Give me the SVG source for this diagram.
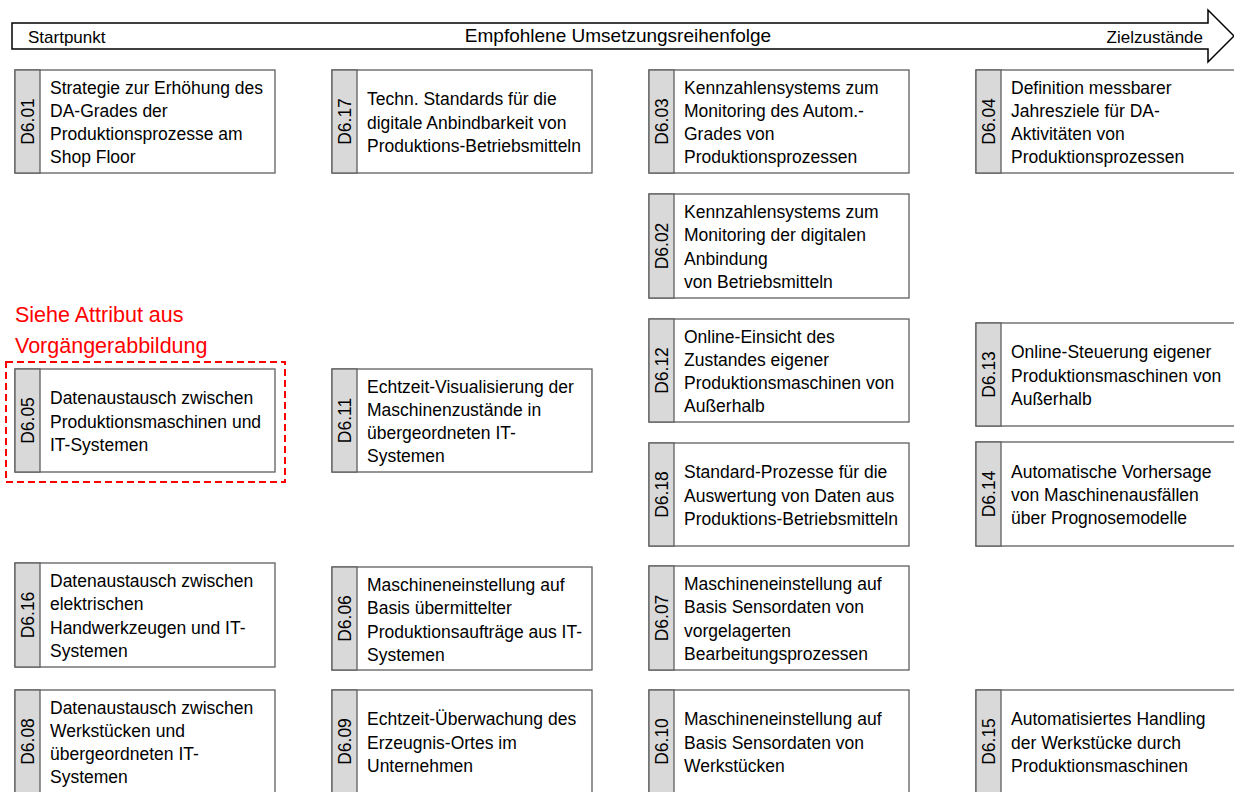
<svg xmlns="http://www.w3.org/2000/svg" width="1234" height="792" viewBox="0 0 1234 792">
  <style>
    .bg { fill: #ffffff; }
    .box { fill: #ffffff; stroke: #5f5f5f; stroke-width: 1.3; }
    .strip { fill: #d9d9d9; stroke: #5f5f5f; stroke-width: 1.3; }
    text { font-family: "Liberation Sans", Arial, sans-serif; fill: #000000; }
    .lbl { font-size: 17.5px; }
    .id { font-size: 17.5px; text-anchor: middle; }
    .axis { font-size: 17px; }
    .title { font-size: 19px; text-anchor: middle; }
    .note { font-size: 21.5px; fill: #ff0000; }
    .arrow { fill: #ffffff; stroke: #000000; stroke-width: 1.5; stroke-linejoin: miter; }
    .mark { fill: none; stroke: #ff0000; stroke-width: 2; stroke-dasharray: 7 4; }
  </style>

  <rect class="bg" x="0" y="0" width="1234" height="792"/>

  <!-- direction arrow across the top -->
  <g id="sequence-arrow">
    <polygon class="arrow" points="12,23 1208,23 1208,10 1234,36 1208,62 1208,49 12,49"/>
    <text class="axis" x="28" y="43">Startpunkt</text>
    <text class="title" x="618" y="42">Empfohlene Umsetzungsreihenfolge</text>
    <text class="axis" x="1203" y="43" text-anchor="end">Zielzustände</text>
  </g>

  <!-- no connectors between the items -->
  <g id="connectors"/>

  <!-- column 1 -->
  <g id="d6-01">
    <rect class="box" x="15" y="70" width="260" height="103"/>
    <rect class="strip" x="15" y="70" width="25" height="103"/>
    <text class="id" transform="translate(33.5,121.5) rotate(-90)">D6.01</text>
    <text class="lbl" x="50" y="93.5">Strategie zur Erhöhung des<tspan x="50" dy="23.3">DA-Grades der</tspan><tspan x="50" dy="23.3">Produktionsprozesse am</tspan><tspan x="50" dy="23.3">Shop Floor</tspan></text>
  </g>

  <g id="note-d6-05">
    <text class="note" x="15" y="322">Siehe Attribut aus</text>
    <text class="note" x="15" y="353">Vorgängerabbildung</text>
    <rect class="mark" x="6" y="362" width="279" height="120"/>
  </g>

  <g id="d6-05">
    <rect class="box" x="15" y="369" width="260" height="103"/>
    <rect class="strip" x="15" y="369" width="25" height="103"/>
    <text class="id" transform="translate(33.5,420.5) rotate(-90)">D6.05</text>
    <text class="lbl" x="50" y="404.2">Datenaustausch zwischen<tspan x="50" dy="23.3">Produktionsmaschinen und</tspan><tspan x="50" dy="23.3">IT-Systemen</tspan></text>
  </g>

  <g id="d6-16">
    <rect class="box" x="15" y="563" width="260" height="104"/>
    <rect class="strip" x="15" y="563" width="25" height="104"/>
    <text class="id" transform="translate(33.5,615) rotate(-90)">D6.16</text>
    <text class="lbl" x="50" y="587">Datenaustausch zwischen<tspan x="50" dy="23.3">elektrischen</tspan><tspan x="50" dy="23.3">Handwerkzeugen und IT-</tspan><tspan x="50" dy="23.3">Systemen</tspan></text>
  </g>

  <g id="d6-08">
    <rect class="box" x="15" y="690" width="260" height="106"/>
    <rect class="strip" x="15" y="690" width="25" height="106"/>
    <text class="id" transform="translate(33.5,741.5) rotate(-90)">D6.08</text>
    <text class="lbl" x="50" y="713.5">Datenaustausch zwischen<tspan x="50" dy="23.3">Werkstücken und</tspan><tspan x="50" dy="23.3">übergeordneten IT-</tspan><tspan x="50" dy="23.3">Systemen</tspan></text>
  </g>

  <!-- column 2 -->
  <g id="d6-17">
    <rect class="box" x="332" y="70" width="260" height="103"/>
    <rect class="strip" x="332" y="70" width="25" height="103"/>
    <text class="id" transform="translate(350.5,121.5) rotate(-90)">D6.17</text>
    <text class="lbl" x="367" y="105.2">Techn. Standards für die<tspan x="367" dy="23.3">digitale Anbindbarkeit von</tspan><tspan x="367" dy="23.3">Produktions-Betriebsmitteln</tspan></text>
  </g>

  <g id="d6-11">
    <rect class="box" x="332" y="369" width="260" height="103"/>
    <rect class="strip" x="332" y="369" width="25" height="103"/>
    <text class="id" transform="translate(350.5,420.5) rotate(-90)">D6.11</text>
    <text class="lbl" x="367" y="392.5">Echtzeit-Visualisierung der<tspan x="367" dy="23.3">Maschinenzustände in</tspan><tspan x="367" dy="23.3">übergeordneten IT-</tspan><tspan x="367" dy="23.3">Systemen</tspan></text>
  </g>

  <g id="d6-06">
    <rect class="box" x="332" y="567" width="260" height="103"/>
    <rect class="strip" x="332" y="567" width="25" height="103"/>
    <text class="id" transform="translate(350.5,618.5) rotate(-90)">D6.06</text>
    <text class="lbl" x="367" y="591">Maschineneinstellung auf<tspan x="367" dy="23.3">Basis übermittelter</tspan><tspan x="367" dy="23.3">Produktionsaufträge aus IT-</tspan><tspan x="367" dy="23.3">Systemen</tspan></text>
  </g>

  <g id="d6-09">
    <rect class="box" x="332" y="690" width="260" height="106"/>
    <rect class="strip" x="332" y="690" width="25" height="106"/>
    <text class="id" transform="translate(350.5,741.5) rotate(-90)">D6.09</text>
    <text class="lbl" x="367" y="725.2">Echtzeit-Überwachung des<tspan x="367" dy="23.3">Erzeugnis-Ortes im</tspan><tspan x="367" dy="23.3">Unternehmen</tspan></text>
  </g>

  <!-- column 3 -->
  <g id="d6-03">
    <rect class="box" x="649" y="70" width="260" height="103"/>
    <rect class="strip" x="649" y="70" width="25" height="103"/>
    <text class="id" transform="translate(667.5,121.5) rotate(-90)">D6.03</text>
    <text class="lbl" x="684" y="93.5">Kennzahlensystems zum<tspan x="684" dy="23.3">Monitoring des Autom.-</tspan><tspan x="684" dy="23.3">Grades von</tspan><tspan x="684" dy="23.3">Produktionsprozessen</tspan></text>
  </g>

  <g id="d6-02">
    <rect class="box" x="649" y="194" width="260" height="104"/>
    <rect class="strip" x="649" y="194" width="25" height="104"/>
    <text class="id" transform="translate(667.5,246) rotate(-90)">D6.02</text>
    <text class="lbl" x="684" y="218">Kennzahlensystems zum<tspan x="684" dy="23.3">Monitoring der digitalen</tspan><tspan x="684" dy="23.3">Anbindung</tspan><tspan x="684" dy="23.3">von Betriebsmitteln</tspan></text>
  </g>

  <g id="d6-12">
    <rect class="box" x="649" y="319" width="260" height="103"/>
    <rect class="strip" x="649" y="319" width="25" height="103"/>
    <text class="id" transform="translate(667.5,370.5) rotate(-90)">D6.12</text>
    <text class="lbl" x="684" y="342.5">Online-Einsicht des<tspan x="684" dy="23.3">Zustandes eigener</tspan><tspan x="684" dy="23.3">Produktionsmaschinen von</tspan><tspan x="684" dy="23.3">Außerhalb</tspan></text>
  </g>

  <g id="d6-18">
    <rect class="box" x="649" y="443" width="260" height="103"/>
    <rect class="strip" x="649" y="443" width="25" height="103"/>
    <text class="id" transform="translate(667.5,494.5) rotate(-90)">D6.18</text>
    <text class="lbl" x="684" y="478.2">Standard-Prozesse für die<tspan x="684" dy="23.3">Auswertung von Daten aus</tspan><tspan x="684" dy="23.3">Produktions-Betriebsmitteln</tspan></text>
  </g>

  <g id="d6-07">
    <rect class="box" x="649" y="566" width="260" height="104"/>
    <rect class="strip" x="649" y="566" width="25" height="104"/>
    <text class="id" transform="translate(667.5,618) rotate(-90)">D6.07</text>
    <text class="lbl" x="684" y="590">Maschineneinstellung auf<tspan x="684" dy="23.3">Basis Sensordaten von</tspan><tspan x="684" dy="23.3">vorgelagerten</tspan><tspan x="684" dy="23.3">Bearbeitungsprozessen</tspan></text>
  </g>

  <g id="d6-10">
    <rect class="box" x="649" y="690" width="260" height="106"/>
    <rect class="strip" x="649" y="690" width="25" height="106"/>
    <text class="id" transform="translate(667.5,741.5) rotate(-90)">D6.10</text>
    <text class="lbl" x="684" y="725.2">Maschineneinstellung auf<tspan x="684" dy="23.3">Basis Sensordaten von</tspan><tspan x="684" dy="23.3">Werkstücken</tspan></text>
  </g>

  <!-- column 4 -->
  <g id="d6-04">
    <rect class="box" x="976" y="70" width="262" height="103"/>
    <rect class="strip" x="976" y="70" width="25" height="103"/>
    <text class="id" transform="translate(994.5,121.5) rotate(-90)">D6.04</text>
    <text class="lbl" x="1011" y="93.5">Definition messbarer<tspan x="1011" dy="23.3">Jahresziele für DA-</tspan><tspan x="1011" dy="23.3">Aktivitäten von</tspan><tspan x="1011" dy="23.3">Produktionsprozessen</tspan></text>
  </g>

  <g id="d6-13">
    <rect class="box" x="976" y="323" width="262" height="103"/>
    <rect class="strip" x="976" y="323" width="25" height="103"/>
    <text class="id" transform="translate(994.5,374.5) rotate(-90)">D6.13</text>
    <text class="lbl" x="1011" y="358.2">Online-Steuerung eigener<tspan x="1011" dy="23.3">Produktionsmaschinen von</tspan><tspan x="1011" dy="23.3">Außerhalb</tspan></text>
  </g>

  <g id="d6-14">
    <rect class="box" x="976" y="442" width="262" height="104"/>
    <rect class="strip" x="976" y="442" width="25" height="104"/>
    <text class="id" transform="translate(994.5,494) rotate(-90)">D6.14</text>
    <text class="lbl" x="1011" y="477.7">Automatische Vorhersage<tspan x="1011" dy="23.3">von Maschinenausfällen</tspan><tspan x="1011" dy="23.3">über Prognosemodelle</tspan></text>
  </g>

  <g id="d6-15">
    <rect class="box" x="976" y="690" width="262" height="106"/>
    <rect class="strip" x="976" y="690" width="25" height="106"/>
    <text class="id" transform="translate(994.5,741.5) rotate(-90)">D6.15</text>
    <text class="lbl" x="1011" y="725.2">Automatisiertes Handling<tspan x="1011" dy="23.3">der Werkstücke durch</tspan><tspan x="1011" dy="23.3">Produktionsmaschinen</tspan></text>
  </g>
</svg>
